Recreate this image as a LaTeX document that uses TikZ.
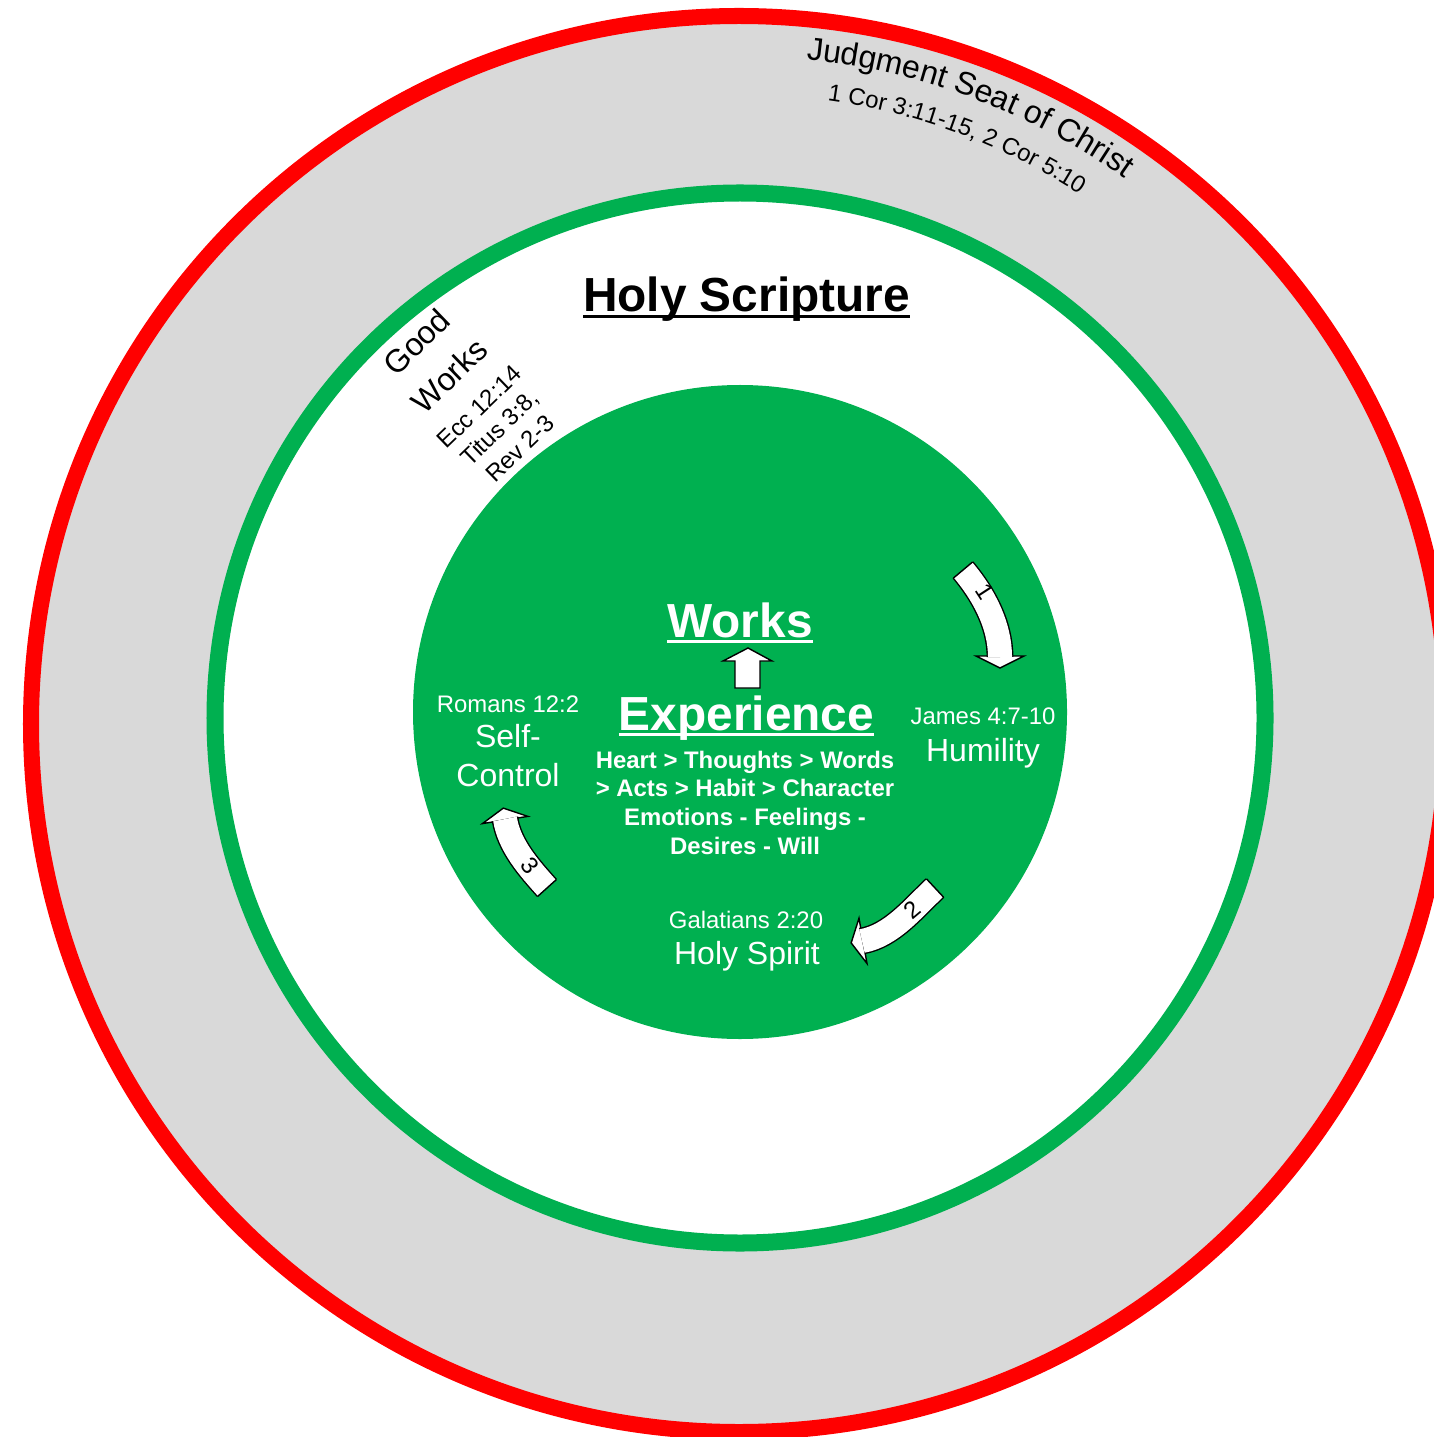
\documentclass[tikz,border=0pt]{standalone}
\usepackage{fontspec}
\setmainfont{Liberation Sans}
\usetikzlibrary{decorations.text}
\definecolor{seatred}{HTML}{FF0000}
\definecolor{seatgray}{HTML}{D9D9D9}
\definecolor{wordgreen}{HTML}{00B050}
\newcommand\ulword[1]{\setbox0=\hbox{#1}\rlap{\rule[-0.125em]{\wd0}{0.065em}}\box0}
\tikzset{
  bigtext/.style={font=\fontsize{13.6}{16.3}\selectfont\bfseries, inner sep=0pt},
  midtext/.style={font=\fontsize{9.1}{10.9}\selectfont, inner sep=0pt},
  smalltext/.style={font=\fontsize{6.8}{8.2}\selectfont, inner sep=0pt},
  ongreen/.style={text=white},
  shaft/.style={draw=black, line width=0.4pt, double=white, double distance=0.24cm},
  tiphead/.style={draw=black, fill=white, line width=0.4pt},
}
% tail, tail heading, head, head heading, control length, half head width
\newcommand\bentarrow[6]{%
  \draw[tiphead, shift={(#3)}, rotate=#4] (-1,-#6) -- (11,0) -- (-1,#6) -- cycle;
  \draw[shaft] (#1) .. controls +(#2:#5) and +({#4+180}:#5) .. (#3);
  \draw[line width=0.4pt, shift={(#1)}, rotate=#2] (0,-12.5) -- (0,12.5);
}

\begin{document}
\begin{tikzpicture}[x=0.01cm,y=0.01cm]

\useasboundingbox (0,0) rectangle (1433,-1437);

%% rings
\coordinate (seat) at (739,-724);
\coordinate (scripture) at (740,-718);
\coordinate (heart) at (740,-712);
\draw[seatred, line width=0.16cm, fill=seatgray] (seat) circle[radius=708];
\draw[wordgreen, line width=0.17cm, fill=white] (scripture) circle[radius=525];
\fill[wordgreen] (heart) circle[radius=327];

%% judgment seat, along the outer ring
\path[decorate, decoration={text along path, text align=center,
  text={|\fontsize{9.1}{10.9}\selectfont|Judgment Seat of Christ}}]
  ([shift={(109.5:668)}]seat) arc[start angle=109.5, end angle=29.5, radius=668];
\path[decorate, decoration={text along path, text align=center,
  text={|\fontsize{6.8}{8.2}\selectfont|1 Cor 3:11-15, 2 Cor 5:10}}]
  ([shift={(109.6:630)}]seat) arc[start angle=109.6, end angle=29.6, radius=630];

%% white ring
\node[bigtext, anchor=base] (holy) at (746.5,-312) {\ulword{Holy Scripture}};
\node[midtext, align=center, rotate=44] (good) at (467,-394)
  {Good\\[2.5pt]Works\\[0.5pt]{\fontsize{6.8}{8.2}\selectfont Ecc 12:14}\\[-2.6pt]
   {\fontsize{6.8}{8.2}\selectfont Titus 3:8,}\\[-2.6pt]{\fontsize{6.8}{8.2}\selectfont Rev 2-3}};

%% green disc
\node[bigtext, ongreen, anchor=base] (works) at (740,-637) {\ulword{Works}};
\node[bigtext, ongreen, anchor=base] (exp) at (746.5,-730) {\ulword{Experience}};
\node[smalltext, ongreen, align=center, anchor=north, font=\fontsize{6.8}{8.2}\selectfont\bfseries]
  (chain) at (745,-750)
  {Heart > Thoughts > Words\\> Acts > Habit > Character\\Emotions - Feelings -\\Desires - Will};

\node[smalltext, ongreen, anchor=base] (james) at (983,-724) {James 4:7-10};
\node[midtext, ongreen, anchor=base] (humility) at (983,-761) {Humility};
\node[smalltext, ongreen, anchor=base] (gal) at (746,-928) {Galatians 2:20};
\node[midtext, ongreen, anchor=base] (spirit) at (747,-964) {Holy Spirit};
\node[smalltext, ongreen, anchor=base] (romans) at (508,-712) {Romans 12:2};
\node[midtext, ongreen, align=center, anchor=north] (control) at (508,-724) {Self-\\Control};

%% up arrow, experience to works
\coordinate (upfoot) at (747.5,-688);
\draw[tiphead, shift={(upfoot)}]
  (-12.5,0) -- (-12.5,27) -- (-24.5,27) -- (0.5,40) -- (24.5,27) -- (12.5,27) -- (12.5,0) -- cycle;

%% cycle arrows
\coordinate (t1) at (963,-570);
\coordinate (h1) at (1000,-657);
\coordinate (t2) at (935,-888);
\coordinate (h2) at (862,-941);
\coordinate (t3) at (547,-888);
\coordinate (h3) at (505,-819);
\bentarrow{t1}{-50}{h1}{-90}{32}{24}
\bentarrow{t2}{223}{h2}{190}{30}{23}
\bentarrow{t3}{132}{h3}{99}{27}{23}
\node[smalltext, rotate=-57] (one) at (985,-592) {1};
\node[smalltext, rotate=40] (two) at (912,-910) {2};
\node[smalltext, rotate=-52] (three) at (530,-866) {3};

\end{tikzpicture}
\end{document}
